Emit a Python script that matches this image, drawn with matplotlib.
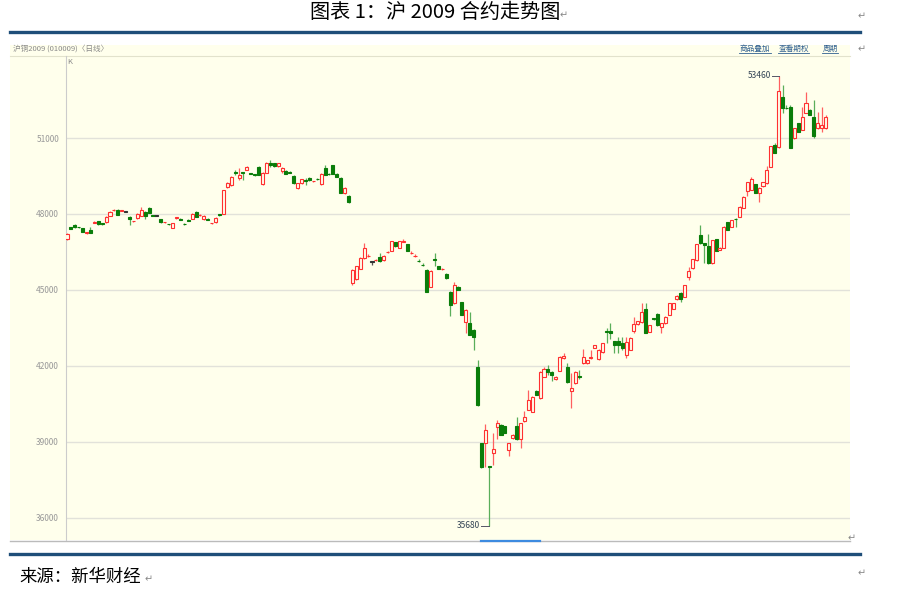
import numpy as np
import matplotlib.pyplot as plt
from matplotlib.patches import Rectangle

# 沪铜2009 日线 (open / high / low / close)
opens = [
    47010, 47480, 47560, 47480, 47440, 47240, 47370, 47660, 47720, 47620,
    47680, 47920, 48140, 48160, 48110, 48080, 47880, 47710, 47840, 47920,
    48080, 48240, 47930, 47910, 47800, 47670, 47610, 47445, 47830, 47820,
    47620, 47780, 47800, 48080, 47940, 47800, 47820, 47630, 47680, 47980,
    47990, 49060, 49140, 49640, 49420, 49640, 49740, 49600, 49560, 49860,
    49180, 49620, 50010, 50010, 49890, 49700, 49700, 49660, 49500, 49030,
    49220, 49320, 49420, 49290, 49400, 49180, 49820, 49590, 49930, 49580,
    49420, 48830, 48710, 45270, 45430, 45830, 46260, 46320, 46100, 46170,
    46300, 46180, 46480, 46540, 46890, 46660, 46910, 46810, 46440, 46320,
    46150, 45990, 45790, 45120, 46230, 45940, 45810, 45630, 44920, 44480,
    45120, 44520, 43730, 43690, 43420, 41950, 38950, 38950, 38040, 38560,
    39590, 39660, 39620, 38680, 39150, 39620, 39110, 39820, 40260, 40180,
    41010, 40730, 41560, 41880, 41760, 41480, 41800, 42310, 41950, 41010,
    41320, 41580, 42110, 42110, 42310, 42710, 42270, 42550, 43360, 43380,
    42980, 42980, 42900, 42430, 42630, 43380, 43650, 43730, 44250, 43340,
    43870, 44050, 43530, 43690, 44010, 44250, 44640, 44880, 44720, 45510,
    45860, 46180, 47170, 46850, 46730, 46060, 47010, 46580, 46660, 47680,
    47490, 47810, 47880, 48240, 48910, 48950, 49180, 48830, 49100, 49220,
    49860, 50720, 50640, 52620, 52200, 52220, 51000, 51590, 51320, 51990,
    52110, 51830, 51390, 51390, 51390]
closes = [
    47210, 47420, 47480, 47470, 47290, 47260, 47250, 47690, 47600, 47600,
    47880, 48080, 48160, 47960, 48130, 48080, 47800, 47730, 48000, 48160,
    47920, 48040, 47910, 47910, 47680, 47690, 47590, 47640, 47850, 47780,
    47590, 47740, 48000, 47880, 47970, 47920, 47780, 47650, 47840, 47940,
    48940, 49220, 49460, 49600, 49540, 49600, 49860, 49570, 49520, 49540,
    49620, 50010, 49930, 49890, 50010, 49820, 49580, 49620, 49220, 49220,
    49380, 49300, 49340, 49310, 49370, 49580, 49540, 49560, 49580, 49460,
    48830, 49030, 48470, 45790, 45940, 46260, 46660, 46340, 46100, 46190,
    46140, 46340, 46500, 46930, 46730, 46930, 46930, 46540, 46460, 46340,
    46130, 45970, 44920, 45750, 46200, 45830, 45830, 45470, 44400, 45190,
    45000, 44010, 44210, 43220, 43140, 40450, 38000, 39470, 38000, 38720,
    39740, 39270, 39350, 38950, 39270, 39110, 39740, 39980, 40650, 40770,
    40850, 41760, 41880, 41760, 41640, 41560, 42350, 42390, 41360, 41130,
    41760, 41560, 42350, 42230, 42350, 42820, 42630, 42900, 43320, 43300,
    42820, 42820, 42700, 42940, 43100, 43650, 43770, 44130, 43300, 43610,
    43850, 43610, 43690, 43930, 44480, 44480, 44760, 44640, 45190, 45750,
    46220, 46810, 46850, 46770, 46060, 46970, 46540, 46660, 47490, 47370,
    47760, 47790, 48280, 48670, 49260, 49380, 48830, 49030, 49260, 49740,
    50680, 50410, 52860, 52190, 52170, 50610, 51390, 51240, 51830, 52380,
    51910, 51080, 51590, 51510, 51830]
highs = [
    47250, 47500, 47600, 47500, 47460, 47300, 47480, 47710, 47740, 47640,
    47900, 48120, 48200, 48180, 48150, 48090, 47900, 47740, 48020, 48260,
    48100, 48260, 47940, 47920, 47820, 47700, 47620, 47660, 47880, 47840,
    47630, 47790, 48020, 48100, 47990, 47940, 47840, 47660, 47860, 48000,
    48960, 49260, 49480, 49740, 49820, 49660, 49880, 49620, 49580, 49880,
    49640, 50040, 50130, 50030, 50030, 49840, 49720, 49680, 49520, 49240,
    49400, 49420, 49440, 49320, 49420, 49600, 49940, 49600, 49950, 49600,
    49440, 49050, 48730, 45810, 45960, 46280, 46850, 46400, 46130, 46220,
    46450, 46360, 46520, 46950, 46910, 46950, 47000, 46830, 46520, 46400,
    46220, 46060, 45810, 45770, 46460, 45960, 45850, 45650, 44940, 45310,
    45140, 44540, 44230, 44130, 43440, 42230, 38970, 39700, 38060, 39350,
    39860, 39690, 39640, 38970, 39290, 39980, 39760, 40220, 41030, 40790,
    41030, 41780, 41950, 42030, 41780, 41580, 42370, 42510, 42110, 41720,
    41780, 41840, 42670, 42250, 42630, 42840, 42650, 42920, 43500, 43690,
    43000, 43140, 43140, 43140, 43120, 43930, 43790, 44480, 44480, 43630,
    43890, 44070, 43710, 43950, 44500, 44500, 44780, 44900, 45210, 45900,
    46240, 46830, 47560, 46870, 47210, 46990, 47030, 46680, 47510, 47700,
    47780, 47850, 48300, 48690, 49280, 49460, 49200, 49050, 49280, 49890,
    50700, 50800, 53460, 53090, 52300, 52300, 51410, 51610, 52230, 52820,
    52130, 52500, 52030, 52230, 51910]
lows = [
    46970, 47400, 47460, 47450, 47270, 47200, 47230, 47640, 47580, 47580,
    47660, 47900, 48120, 47940, 48100, 48070, 47560, 47700, 47820, 47900,
    47800, 48020, 47900, 47900, 47660, 47660, 47580, 47430, 47820, 47770,
    47570, 47720, 47790, 47860, 47920, 47780, 47770, 47620, 47660, 47930,
    47980, 49040, 49120, 49540, 49340, 49340, 49720, 49560, 49510, 49520,
    49160, 49600, 49860, 49870, 49870, 49620, 49560, 49600, 49200, 49000,
    49200, 49140, 49320, 49280, 49360, 49160, 49520, 49550, 49560, 49440,
    48810, 48800, 48450, 45190, 45410, 45810, 46240, 46300, 45980, 46150,
    46120, 46160, 46470, 46520, 46710, 46640, 46880, 46520, 46400, 46300,
    46110, 45950, 44900, 45100, 45940, 45810, 45800, 45450, 43970, 44460,
    44980, 43990, 43300, 43200, 42630, 40430, 37980, 38000, 35680, 38080,
    39110, 39250, 39330, 38440, 39130, 39090, 38760, 39800, 40240, 40160,
    40830, 40710, 41540, 41640, 41400, 41460, 41780, 42290, 41340, 40330,
    41300, 41480, 42090, 42090, 42290, 42690, 42250, 42500, 42900, 43060,
    42510, 42510, 42630, 42310, 42610, 43300, 43630, 43710, 43280, 43320,
    43830, 43590, 43300, 43670, 43990, 44230, 44620, 44520, 44700, 45390,
    45840, 46160, 46830, 46060, 46040, 46040, 46520, 46560, 46640, 47350,
    47470, 47490, 47860, 48220, 48710, 48930, 48810, 48470, 49080, 49200,
    49840, 50390, 50620, 52000, 52150, 50590, 50980, 51220, 51300, 51970,
    51890, 51000, 51370, 51240, 51370]

yticks = [36000, 39000, 42000, 45000, 48000, 51000]

W, H = 905, 589
plt.rcParams['font.family'] = ['Noto Sans CJK SC', 'DejaVu Sans']
fig = plt.figure(figsize=(W / 100, H / 100), dpi=100)

# page layer in pixel coordinates
page = fig.add_axes([0, 0, 1, 1])
page.set_xlim(0, W)
page.set_ylim(H, 0)
page.axis('off')

bgc = '#FFFFEC'
page.add_patch(Rectangle((10, 45), 840, 495, fc=bgc, ec='none', zorder=0))
page.plot([10, 850], [55.5, 55.5], color='#E2E2CC', lw=0.8)
page.plot([10, 850], [540.5, 540.5], color='#BBBBBB', lw=1)
page.plot([481, 540], [540.5, 540.5], color='#3D8BE0', lw=1.6)
page.plot([10, 860], [32, 32], color='#1F4E79', lw=2.4)
page.plot([10, 860], [554, 554], color='#1F4E79', lw=2.4)

page.text(435, 13, '图表 1：沪 2009 合约走势图', ha='center', va='center',
          fontsize=14.5, color='black', weight='medium')
page.text(19, 577, '来源：新华财经', ha='left', va='center', fontsize=12.5, color='black')
for x, y in [(564, 15), (862, 16), (862, 49), (852, 538), (862, 573), (149, 579)]:
    page.text(x, y, '↵', ha='center', va='center', fontsize=7, color='#888888',
              family=['DejaVu Sans'])

page.text(13, 49, '沪铜2009 (010009)〈日线〉', ha='left', va='center', fontsize=5.5,
          color='#8A8A8A')
for x0, x1, s in [(739, 771, '商品叠加'), (778, 809, '查看期权'), (822, 838, '周期')]:
    page.text((x0 + x1) / 2, 49, s, ha='center', va='center', fontsize=5.5, color='#2F5F8F')
    page.plot([x0, x1], [53, 53], color='#2F5F8F', lw=0.6)
page.text(67, 62, 'K', ha='left', va='center', fontsize=5.5, color='#888888')

# chart layer
step = 3.91
ax = fig.add_axes([66 / W, (H - 540) / H, (850 - 66) / W, (540 - 56) / H])
ax.set_facecolor('none')
ax.set_xlim((66 - 67) / step, (850 - 67) / step)
ax.set_ylim(51000 - (540 - 138) * 39.5, 51000 + (138 - 56) * 39.5)
ax.set_yticks(yticks)
ax.set_yticklabels([str(v) for v in yticks])
ax.tick_params(axis='y', length=0, pad=5, labelsize=6, labelcolor='#999999')
ax.set_xticks([])
ax.grid(axis='y', color='#E2E2DA', lw=1)
ax.set_axisbelow(True)
for s in ['top', 'right', 'bottom']:
    ax.spines[s].set_visible(False)
ax.spines['left'].set_color('#CCCCCC')

red, red_w = '#FF3030', '#FF6060'
green, green_w = '#0A7D0A', '#5AAE5A'
bw = 0.78
for i in range(len(opens)):
    o, h, l, c = opens[i], highs[i], lows[i], closes[i]
    if c > o:
        ec, wc, fc = red, red_w, bgc
    elif c < o:
        ec, wc, fc = green, green_w, green
    else:
        ec, wc, fc = '#333333', '#555555', '#333333'
    ax.vlines(i, l, h, color=wc, lw=0.9, zorder=2)
    bottom = min(o, c)
    height = max(abs(c - o), 30)
    ax.add_patch(Rectangle((i - bw / 2, bottom), bw, height, fc=fc, ec=ec,
                           lw=0.8, zorder=3))

# highest / lowest markers
hi = int(np.argmax(highs))
lo = int(np.argmin(lows))
ax.plot([hi - 1.6, hi], [highs[hi], highs[hi]], color='#555566', lw=0.7)
ax.text(hi - 1.9, highs[hi], str(highs[hi]), ha='right', va='center', fontsize=6,
        color='#334455')
ax.plot([lo - 2.2, lo], [lows[lo], lows[lo]], color='#555566', lw=0.7)
ax.text(lo - 2.5, lows[lo], str(lows[lo]), ha='right', va='center', fontsize=6,
        color='#334455')

fig.savefig('out.png', dpi=100)
